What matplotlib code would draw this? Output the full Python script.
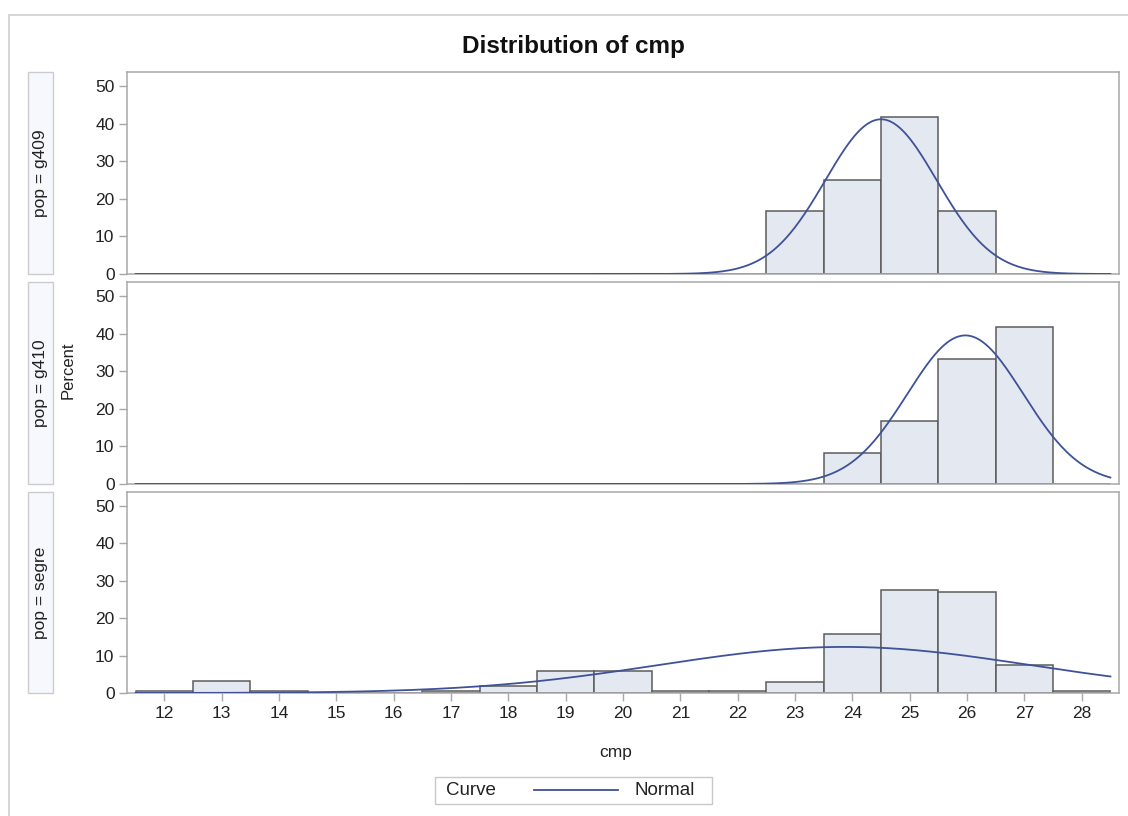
import numpy as np
import matplotlib
matplotlib.use("Agg")
import matplotlib.pyplot as plt
from matplotlib.patches import Rectangle
from matplotlib.lines import Line2D

plt.rcParams['font.family'] = ['Liberation Sans', 'DejaVu Sans']

# ---- data ----
bin_mids = list(range(12, 29))
groups = ["g409", "g410", "segre"]
pct_g409 = [0, 0, 0, 0, 0, 0, 0, 0, 0, 0, 0, 16.67, 25.0, 41.67, 16.67, 0, 0]
pct_g410 = [0, 0, 0, 0, 0, 0, 0, 0, 0, 0, 0, 0, 8.33, 16.67, 33.33, 41.67, 0]
pct_segre = [0.6, 3.2, 0.6, 0, 0, 0.6, 1.9, 5.8, 5.8, 0.6, 0.6, 2.9, 15.7, 27.6, 26.9, 7.5, 0.6]
normal_mu = [24.5, 25.97, 23.86]
normal_sigma = [0.97, 1.01, 3.24]
y_ticks = [0, 10, 20, 30, 40, 50]
x_ticks = list(range(12, 29))

W, H = 1128, 816
fig = plt.figure(figsize=(W / 100, H / 100), dpi=100)

def fx(px):
    return px / W

def fy(py):
    return 1 - py / H

fill_c = '#e3e8f1'
edge_c = '#5c5c5c'
curve_c = '#3f5298'
spine_c = '#a8a8a8'
text_c = '#222222'

# outer border
fig.patches.append(Rectangle((fx(9), fy(830)), fx(1140 - 9), fy(15) - fy(830),
                             transform=fig.transFigure, fill=False,
                             edgecolor='#d2d2d2', linewidth=1.3))

panel_tops = [72, 282, 492]
panel_bots = [274, 484, 693]
left_px, right_px = 127, 1119
all_pcts = [pct_g409, pct_g410, pct_segre]
binw = 1.0
xx = np.linspace(11.5, 28.5, 600)

for i, (g, pct) in enumerate(zip(groups, all_pcts)):
    ax = fig.add_axes([fx(left_px), fy(panel_bots[i]), fx(right_px - left_px),
                       fy(panel_tops[i]) - fy(panel_bots[i])])
    ax.bar(bin_mids, pct, width=binw, color=fill_c, edgecolor=edge_c,
           linewidth=1.1, zorder=2)
    yy = 100 * binw / (normal_sigma[i] * np.sqrt(2 * np.pi)) * \
        np.exp(-0.5 * ((xx - normal_mu[i]) / normal_sigma[i]) ** 2)
    ax.plot(xx, yy, color=curve_c, linewidth=1.3, zorder=3)
    ax.set_xlim(11.35, 28.65)
    ax.set_ylim(0, 53.7)
    ax.set_yticks(y_ticks)
    ax.set_xticks(x_ticks)
    for s in ax.spines.values():
        s.set_color(spine_c)
        s.set_linewidth(1.1)
    ax.tick_params(axis='both', direction='out', length=6, width=1,
                   color=spine_c, labelcolor=text_c, labelsize=12.5, pad=3)
    if i < 2:
        ax.tick_params(axis='x', bottom=False, labelbottom=False)
    else:
        ax.set_xticklabels([str(t) for t in x_ticks])
    # strip label
    sx0, sx1 = 28, 53
    fig.patches.append(Rectangle((fx(sx0), fy(panel_bots[i])), fx(sx1 - sx0),
                                 fy(panel_tops[i]) - fy(panel_bots[i]),
                                 transform=fig.transFigure, facecolor='#f7f8fd',
                                 edgecolor='#cccccc', linewidth=1.0))
    fig.text(fx((sx0 + sx1) / 2), fy((panel_tops[i] + panel_bots[i]) / 2),
             "pop = " + g, rotation=90, ha='center', va='center',
             fontsize=12.5, color=text_c)

fig.text(fx(573), fy(47), "Distribution of cmp", ha='center', va='center',
         fontsize=17.5, fontweight='bold', color='#111111')
fig.text(fx(68), fy(370), "Percent", rotation=90, ha='center', va='center',
         fontsize=12, color=text_c)
fig.text(fx(616), fy(752), "cmp", ha='center', va='center',
         fontsize=12.5, color=text_c)

# legend
fig.patches.append(Rectangle((fx(435), fy(804)), fx(712 - 435), fy(777) - fy(804),
                             transform=fig.transFigure, facecolor='white',
                             edgecolor='#c8c8c8', linewidth=1.0))
fig.text(fx(471), fy(790.5), "Curve", ha='center', va='center', fontsize=13.5,
         color=text_c)
fig.lines.append(Line2D([fx(534), fx(618)], [fy(790), fy(790)],
                        transform=fig.transFigure, color=curve_c, linewidth=1.3))
fig.text(fx(665), fy(790.5), "Normal", ha='center', va='center', fontsize=13.5,
         color=text_c)

fig.savefig("out.png", dpi=100, facecolor='white')
